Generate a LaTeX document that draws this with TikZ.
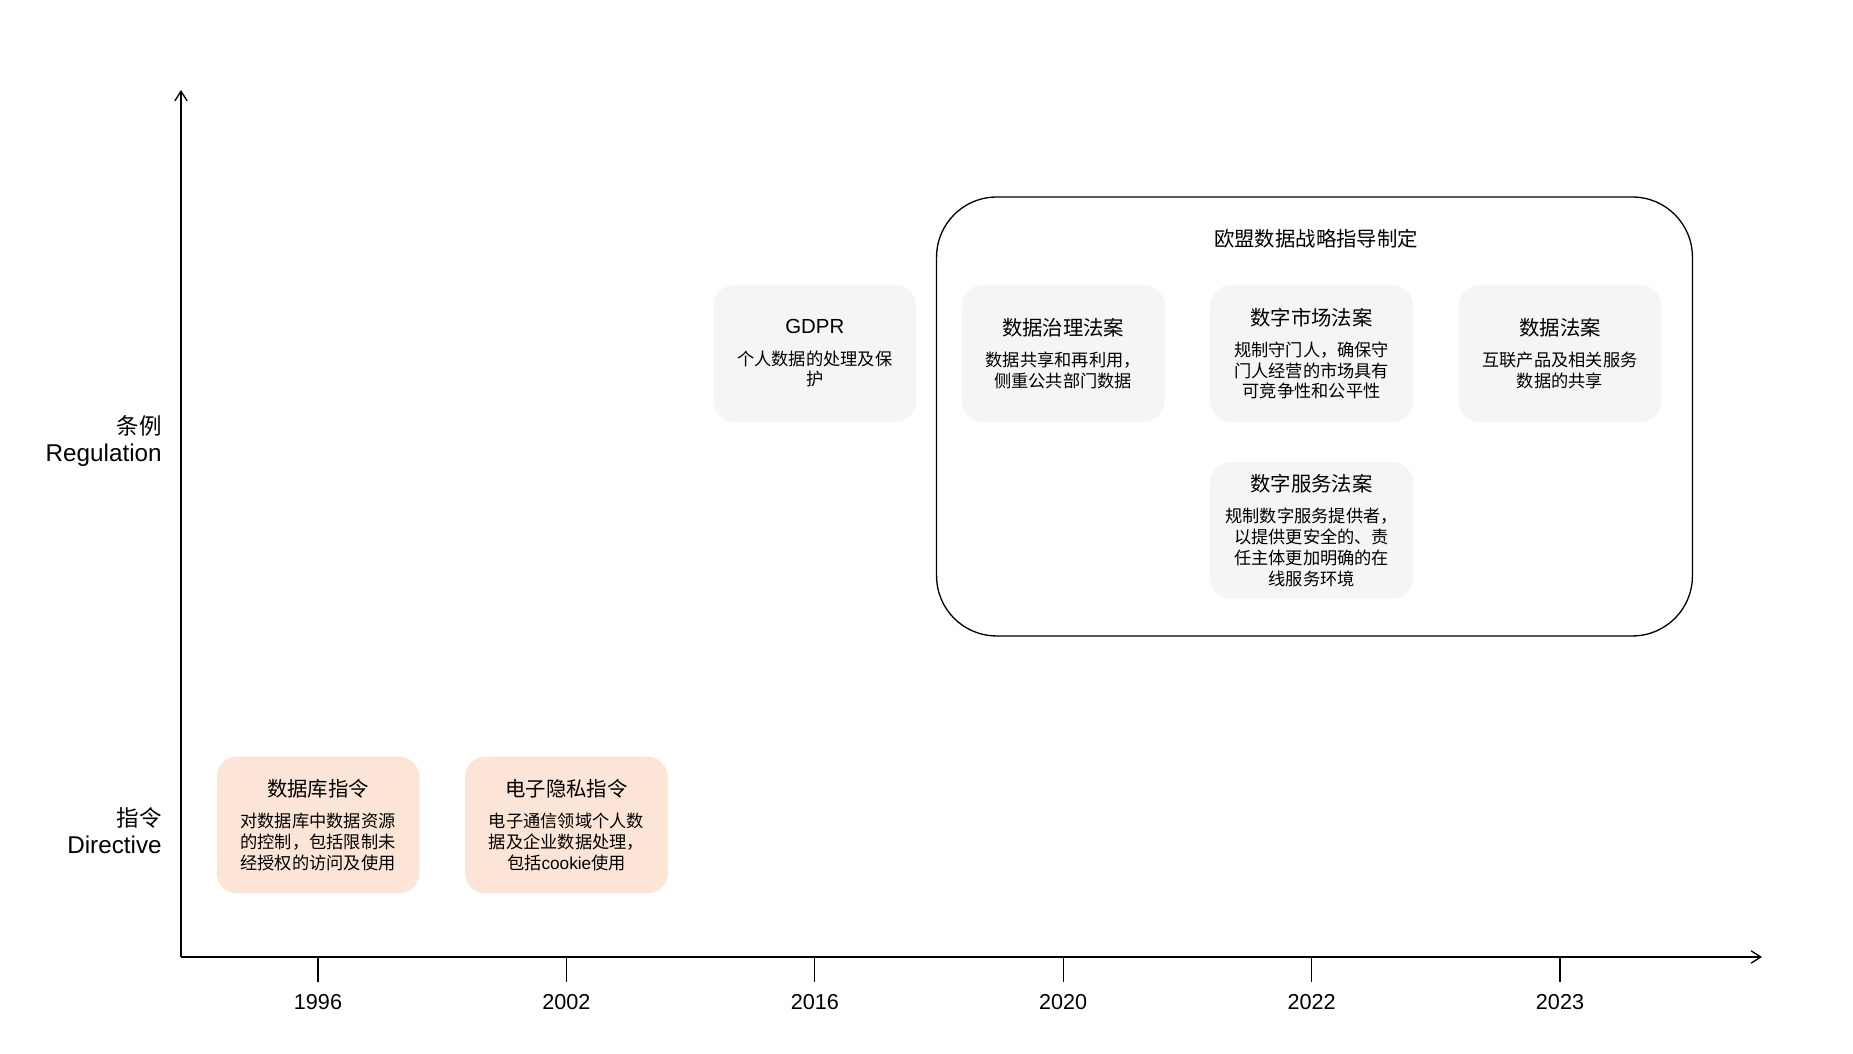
\documentclass[tikz,border=0pt]{standalone}
\usepackage{fontspec}
\setmainfont{Liberation Sans}
\newfontfamily\cjk{Noto Sans CJK SC}
\usetikzlibrary{arrows.meta}
\definecolor{boxgray}{RGB}{245,245,245}
\definecolor{boxpeach}{RGB}{252,229,214}
\newcommand{\lawtitle}[1]{{\fontsize{11.6}{14}\selectfont #1}}

\begin{document}
\begin{tikzpicture}[x=0.02cm,y=0.02cm,
  lawbox/.style={fill=boxgray, rounded corners=0.42cm, minimum width=4.06cm,
    minimum height=2.74cm, align=center, inner sep=0pt,
    font=\cjk\fontsize{9.8}{11.8}\selectfont},
  dirbox/.style={lawbox, fill=boxpeach},
  axisline/.style={line width=0.75pt, -{Straight Barb[length=5.5pt,width=7pt]}},
  tickline/.style={line width=0.6pt},
  yearlabel/.style={font=\fontsize{12.3}{14}\selectfont},
  rowlabel/.style={anchor=east, align=right, inner sep=0pt,
    font=\fontsize{13.8}{15.4}\selectfont}]
\useasboundingbox (0,0) rectangle (1853,1054);

\coordinate (origin) at (181,97);
\draw[axisline] (origin) -- (1762,97);
\draw[axisline] (origin) -- (181,964);
\foreach \yr [count=\i from 0] in {1996,2002,2016,2020,2022,2023} {
  \coordinate (t\i) at (318+248.4*\i,97);
  \draw[tickline] (t\i) -- ++(0,-25);
  \node[yearlabel] (yr\i) at (318+248.4*\i,52) {\yr};
}

\node[rowlabel] (regulation) at (162,612.5) {{\cjk\fontsize{12.8}{15.4}\selectfont 条例}\\Regulation};
\node[rowlabel] (directive) at (162,223.5) {{\cjk\fontsize{12.8}{15.4}\selectfont 指令}\\Directive};

% directive
\node[dirbox] (dbdir) at (318,229) {\lawtitle{数据库指令}\\[6pt]对数据库中数据资源\\的控制，包括限制未\\经授权的访问及使用};
\node[dirbox] (eprivacy) at (566.4,229) {\lawtitle{电子隐私指令}\\[6pt]电子通信领域个人数\\据及企业数据处理，\\包括{\rmfamily cookie}使用};

% regulation
\node[lawbox] (gdpr) at (814.8,700.5) {\lawtitle{\rmfamily GDPR}\\[6pt]个人数据的处理及保\\护};
\node[draw, line width=0.75pt, rounded corners=1.2cm, minimum width=15.12cm,
  minimum height=8.78cm] (strategy) at (1314.5,637.5) {};
\node[font=\cjk] (strategytitle) at (1316,815) {\lawtitle{欧盟数据战略指导制定}};
\node[lawbox] (dga) at (1063.2,700.5) {\lawtitle{数据治理法案}\\[6pt]数据共享和再利用，\\侧重公共部门数据};
\node[lawbox] (dma) at (1311.6,700.5) {\lawtitle{数字市场法案}\\[6pt]规制守门人，确保守\\门人经营的市场具有\\可竞争性和公平性};
\node[lawbox] (dataact) at (1560,700.5) {\lawtitle{数据法案}\\[6pt]互联产品及相关服务\\数据的共享};
\node[lawbox] (dsa) at (1311.6,523.5) {\lawtitle{数字服务法案}\\[6pt]规制数字服务提供者，\\以提供更安全的、责\\任主体更加明确的在\\线服务环境};
\end{tikzpicture}
\end{document}
